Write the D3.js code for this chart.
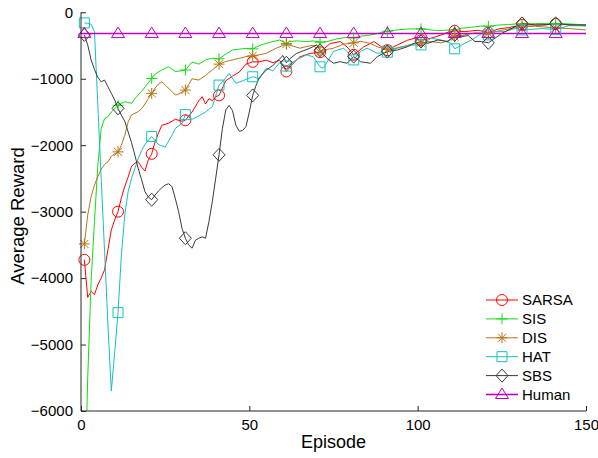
<!DOCTYPE html>
<html>
<head>
<meta charset="utf-8">
<script src="https://cdn.jsdelivr.net/npm/d3@7"></script>
<style>
  html, body { margin: 0; padding: 0; background: #fff; }
  svg { display: block; font-family: 'Liberation Sans', Arial, sans-serif; }
</style>
</head>
<body>
<div id="chart"></div>
<script>
// values: [episode, average reward]
const sarsa = [[1,-3725],[2,-4290],[3,-4200],[4,-4250],[5,-4100],[6,-4000],[7,-3875],[8,-3575],[9,-3275],[10,-3125],
  [11,-3000],[12,-2790],[13,-2620],[14,-2480],[15,-2320],[16,-2270],[17,-2250],[18,-2330],[19,-2390],[20,-2220],
  [21,-2130],[22,-1950],[23,-1820],[24,-1700],[26,-1670],[28,-1610],[30,-1640],[31,-1625],[33,-1500],[35,-1330],
  [36,-1270],[37,-1380],[38,-1300],[39,-1330],[40,-1270],[41,-1250],[43,-1030],[45,-960],[47,-900],[49,-780],
  [51,-745],[53,-745],[55,-720],[57,-760],[59,-720],[61,-890],[63,-770],[65,-670],[68,-620],[71,-600],
  [74,-470],[77,-440],[79,-520],[81,-640],[84,-520],[87,-440],[89,-510],[91,-570],[94,-490],[97,-420],
  [99,-390],[101,-420],[104,-390],[107,-340],[109,-300],[111,-280],[114,-290],[118,-270],[121,-305],[124,-250],
  [127,-230],[131,-190],[136,-190],[141,-175],[145,-185],[150,-190]];

const sis = [[1,-7400],[2,-5500],[3,-4050],[4,-3150],[5,-2300],[6,-1750],[7,-1600],[8,-1570],[9,-1500],[10,-1450],
  [11,-1400],[13,-1345],[15,-1370],[16,-1300],[18,-1190],[21,-995],[22,-930],[24,-868],[26,-818],[28,-890],
  [30,-880],[31,-868],[33,-750],[35,-780],[37,-717],[39,-690],[41,-700],[43,-630],[45,-567],[47,-555],
  [49,-542],[51,-550],[53,-500],[55,-467],[57,-440],[59,-417],[61,-470],[62,-440],[64,-430],[67,-442],
  [69,-430],[71,-450],[73,-442],[76,-400],[79,-375],[81,-385],[83,-360],[86,-341],[88,-320],[91,-285],
  [93,-270],[96,-256],[98,-250],[101,-250],[103,-260],[106,-277],[108,-270],[111,-265],[113,-241],[116,-225],
  [119,-206],[121,-210],[124,-191],[127,-185],[129,-176],[131,-178],[135,-170],[139,-166],[141,-168],[145,-175],
  [150,-190]];

const dis = [[1,-3485],[2,-3050],[3,-2775],[4,-2600],[5,-2475],[6,-2360],[7,-2290],[8,-2250],[9,-2170],[10,-2130],
  [11,-2100],[12,-2000],[13,-1850],[14,-1650],[15,-1545],[16,-1520],[17,-1495],[18,-1450],[19,-1380],[20,-1300],
  [21,-1220],[22,-1140],[23,-1080],[24,-1045],[25,-1095],[27,-1190],[28,-1245],[29,-1230],[31,-1170],[33,-1000],
  [35,-1020],[37,-950],[39,-868],[41,-780],[43,-740],[45,-717],[47,-692],[49,-667],[51,-655],[53,-640],
  [55,-617],[58,-540],[61,-480],[63,-510],[65,-540],[67,-515],[69,-495],[71,-600],[73,-560],[75,-540],
  [78,-480],[81,-460],[83,-435],[86,-470],[88,-520],[91,-560],[93,-545],[96,-510],[99,-470],[101,-460],
  [104,-440],[107,-460],[109,-430],[111,-370],[114,-340],[117,-310],[121,-315],[125,-270],[128,-240],[131,-220],
  [135,-210],[141,-235],[145,-245],[150,-265]];

const hat = [[1,-160],[2,-165],[3,-180],[4,-290],[5,-1400],[6,-2500],[7,-3600],[8,-4700],[9,-5700],[10,-5120],
  [11,-4520],[12,-3650],[13,-3050],[14,-2700],[15,-2500],[16,-2350],[17,-2200],[18,-2080],[19,-1990],[20,-1920],
  [21,-1870],[23,-1990],[25,-2030],[27,-1850],[28,-1750],[30,-1670],[31,-1540],[33,-1610],[35,-1560],[37,-1500],
  [39,-1420],[41,-1095],[42,-1050],[44,-920],[46,-1070],[48,-1030],[51,-970],[53,-1000],[55,-840],[57,-880],
  [59,-760],[61,-810],[64,-717],[67,-640],[69,-670],[71,-820],[72,-840],[75,-590],[78,-540],[80,-640],
  [81,-717],[83,-590],[85,-540],[88,-617],[91,-600],[94,-540],[98,-492],[101,-490],[104,-390],[107,-417],
  [110,-467],[111,-550],[114,-467],[116,-417],[119,-320],[121,-340],[123,-292],[126,-290],[129,-241],[131,-265],
  [134,-256],[137,-245],[141,-260],[145,-200],[150,-206]];

const sbs = [[1,-340],[2,-490],[3,-717],[4,-860],[5,-980],[6,-1045],[7,-1020],[8,-1120],[9,-1220],[10,-1320],
  [11,-1445],[12,-1550],[13,-1640],[14,-1800],[15,-1960],[16,-2150],[17,-2350],[18,-2520],[19,-2700],[20,-2780],
  [21,-2820],[22,-2750],[23,-2690],[24,-2640],[25,-2600],[26,-2580],[27,-2620],[28,-2800],[29,-3000],[30,-3250],
  [31,-3400],[32,-3500],[33,-3550],[34,-3430],[35,-3400],[36,-3380],[37,-3400],[38,-3150],[39,-2850],[40,-2500],
  [41,-2145],[42,-1750],[43,-1470],[44,-1400],[45,-1480],[46,-1700],[47,-1790],[48,-1780],[49,-1720],[50,-1500],
  [51,-1250],[52,-1100],[53,-980],[55,-870],[57,-800],[59,-700],[60,-650],[61,-760],[62,-700],[64,-620],
  [66,-580],[68,-540],[70,-490],[71,-570],[73,-690],[75,-767],[77,-743],[79,-767],[81,-667],[83,-743],
  [86,-767],[88,-667],[91,-590],[94,-567],[97,-517],[99,-467],[101,-440],[103,-467],[106,-417],[109,-440],
  [111,-340],[113,-367],[115,-350],[117,-440],[119,-440],[121,-460],[123,-390],[125,-316],[129,-216],[131,-166],
  [135,-191],[138,-191],[141,-166],[145,-191],[150,-191]];

const human = [[0,-320],[1,-320],[11,-320],[21,-320],[31,-320],[41,-320],[51,-320],[61,-320],[71,-320],
  [81,-320],[91,-320],[101,-320],[111,-320],[121,-320],[131,-320],[141,-320],[150,-320]];

const markerEpisodes = [1, 11, 21, 31, 41, 51, 61, 71, 81, 91, 101, 111, 121, 131, 141];
const xTicks = [0, 50, 100, 150];
const yTicks = [0, -1000, -2000, -3000, -4000, -5000, -6000];

const series = [
    { name: 'SARSA', data: sarsa, color: '#ff0000', marker: 'circle' },
    { name: 'SIS',   data: sis,   color: '#11dd11', marker: 'plus' },
    { name: 'DIS',   data: dis,   color: '#b8741a', marker: 'star' },
    { name: 'HAT',   data: hat,   color: '#19bfbf', marker: 'square' },
    { name: 'SBS',   data: sbs,   color: '#3a3a3a', marker: 'diamond' },
    { name: 'Human', data: human, color: '#bf00bf', marker: 'triangle', width: 1.6 }
];

const W = 598, H = 458;
const x = d3.scaleLinear().domain([0, 150]).range([81, 586]);
const y = d3.scaleLinear().domain([-6000, 0]).range([411, 12.3]);

const svg = d3.select('#chart').append('svg').attr('width', W).attr('height', H);

svg.append('defs').append('clipPath').attr('id', 'plot-clip')
    .append('rect').attr('x', 81).attr('y', 0).attr('width', 506).attr('height', 411);

// marker shapes, roughly the size of the reference ones
function markerPath(type) {
    const p = d3.path();
    if (type === 'circle') {
        p.moveTo(5.5, 0); p.arc(0, 0, 5.5, 0, 2 * Math.PI);
    } else if (type === 'plus') {
        p.moveTo(-5.5, 0); p.lineTo(5.5, 0); p.moveTo(0, -5.5); p.lineTo(0, 5.5);
    } else if (type === 'star') {
        const a = 5.5, b = 4;
        p.moveTo(-a, 0); p.lineTo(a, 0); p.moveTo(0, -a); p.lineTo(0, a);
        p.moveTo(-b, -b); p.lineTo(b, b); p.moveTo(-b, b); p.lineTo(b, -b);
    } else if (type === 'square') {
        p.rect(-5, -5, 10, 10);
    } else if (type === 'diamond') {
        p.moveTo(0, -6.5); p.lineTo(6, 0); p.lineTo(0, 6.5); p.lineTo(-6, 0); p.closePath();
    } else if (type === 'triangle') {
        p.moveTo(0, -6.5); p.lineTo(6.5, 4); p.lineTo(-6.5, 4); p.closePath();
    }
    return p.toString();
}

const line = d3.line().x(d => x(d[0])).y(d => y(d[1]));
const plot = svg.append('g').attr('clip-path', 'url(#plot-clip)');

series.forEach(s => {
    plot.append('path')
        .datum(s.data)
        .attr('d', line)
        .attr('fill', 'none')
        .attr('stroke', s.color)
        .attr('stroke-width', s.width || 1)
        .attr('stroke-linejoin', 'round');
});

// markers on top of all lines, same plotting order
series.forEach(s => {
    svg.append('g').selectAll('path')
        .data(s.data.filter(d => markerEpisodes.includes(d[0]) && d[1] >= -6000))
        .join('path')
        .attr('transform', d => `translate(${x(d[0])},${y(d[1])})`)
        .attr('d', markerPath(s.marker))
        .attr('fill', 'none')
        .attr('stroke', s.color)
        .attr('stroke-width', 1);
});

// axes (left and bottom only, ticks pointing inward)
const fmt = v => v < 0 ? '\u2212' + Math.abs(v) : String(v);

svg.append('g')
    .attr('transform', 'translate(0,411)')
    .call(d3.axisBottom(x).tickValues(xTicks).tickSize(-5).tickPadding(8).tickFormat(fmt))
    .call(g => g.select('.domain').attr('d', 'M81,0H586').attr('stroke', '#262626'))
    .call(g => g.selectAll('.tick line').attr('stroke', '#262626'))
    .call(g => g.selectAll('.tick text').attr('font-size', 15).attr('fill', '#000')
        .attr('font-family', "'Liberation Sans', Arial, sans-serif"));

svg.append('g')
    .attr('transform', 'translate(81,0)')
    .call(d3.axisLeft(y).tickValues(yTicks).tickSize(-5).tickPadding(8).tickFormat(fmt))
    .call(g => g.select('.domain').attr('d', 'M0,411V12.3').attr('stroke', '#262626'))
    .call(g => g.selectAll('.tick line').attr('stroke', '#262626'))
    .call(g => g.selectAll('.tick text').attr('font-size', 15).attr('fill', '#000')
        .attr('font-family', "'Liberation Sans', Arial, sans-serif"));

svg.append('text')
    .attr('x', 333.5).attr('y', 448)
    .attr('text-anchor', 'middle')
    .attr('font-size', 18)
    .text('Episode');

svg.append('text')
    .attr('transform', 'translate(24,216) rotate(-90)')
    .attr('text-anchor', 'middle')
    .attr('font-size', 18.5)
    .text('Average Reward');

// legend, no box
const legend = svg.append('g').attr('transform', 'translate(486,300)');
series.forEach((s, i) => {
    const row = legend.append('g').attr('transform', `translate(0,${i * 18.9})`);
    row.append('line').attr('x1', 0).attr('x2', 32).attr('y1', 0).attr('y2', 0)
        .attr('stroke', s.color).attr('stroke-width', s.width || 1);
    row.append('path').attr('transform', 'translate(16,0)').attr('d', markerPath(s.marker))
        .attr('fill', 'none').attr('stroke', s.color);
    row.append('text').attr('x', 36).attr('y', 0).attr('dy', '0.36em')
        .attr('font-size', 15).text(s.name);
});
</script>
</body>
</html>
